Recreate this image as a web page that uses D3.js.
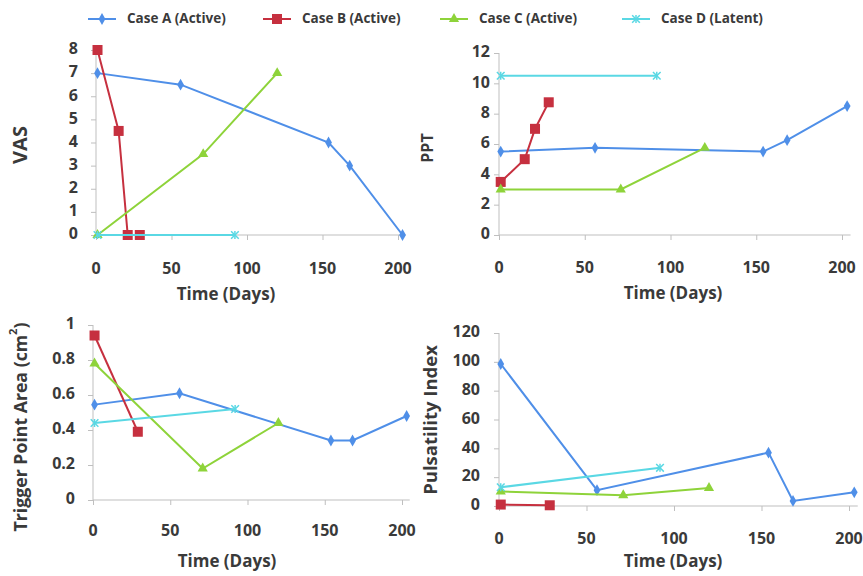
<!DOCTYPE html>
<html><head><meta charset="utf-8">
<script src="https://cdn.jsdelivr.net/npm/d3@7"></script>
<style>body{margin:0;background:#fff}svg{display:block}text{font-family:"Open Sans",sans-serif;font-weight:bold;fill:#3a3a3a}</style>
</head><body><svg id="c" width="863" height="576"></svg>
<script>
// ---- data ----
const seriesNames = ["Case A (Active)", "Case B (Active)", "Case C (Active)", "Case D (Latent)"];
const seriesColors = ["#4f8fe8", "#c6303f", "#8ed33a", "#5ad8e4"];
const seriesMarkers = ["diamond", "square", "triangle", "star"];
const xTicks = [0, 50, 100, 150, 200];

// days
const daysA = [1, 56, 154, 168, 203];
const daysB = [1, 15, 21, 29];
const daysB2 = [1, 29];
const daysC = [1, 71, 120];
const daysD = [1, 92];

// VAS
const vasA = [7, 6.5, 4, 3, 0];
const vasB = [8, 4.5, 0, 0];
const vasC = [0, 3.5, 7];
const vasD = [0, 0];
const vasTicks = [0, 1, 2, 3, 4, 5, 6, 7, 8];

// PPT
const pptA = [5.5, 5.75, 5.5, 6.25, 8.5];
const pptB = [3.5, 5, 7, 8.75];
const pptC = [3, 3, 5.75];
const pptD = [10.5, 10.5];
const pptTicks = [0, 2, 4, 6, 8, 10, 12];

// Trigger point area
const tpaA = [0.545, 0.61, 0.34, 0.34, 0.48];
const tpaB = [0.94, 0.39];
const tpaC = [0.78, 0.18, 0.44];
const tpaD = [0.44, 0.52];
const tpaTicks = [0, 0.2, 0.4, 0.6, 0.8, 1];

// Pulsatility index
const piA = [98.5, 11, 37, 3.5, 9.5];
const piB = [1, 0.5];
const piC = [10, 7.5, 12.5];
const piD = [13, 26.5];
const piTicks = [0, 20, 40, 60, 80, 100, 120];

// ---- layout ----
const svg = d3.select("#c");
const xMax = 205;

function zip(xs, ys){ return xs.map((x,i)=>({x, y: ys[i]})); }

function marker(g, type, color, x, y){
  if(type==="diamond"){
    g.append("path").attr("d", d3.symbol(d3.symbolDiamond, 40)()).attr("transform",`translate(${x},${y})`).attr("fill",color);
  } else if(type==="square"){
    g.append("rect").attr("x",x-5).attr("y",y-5).attr("width",10).attr("height",10).attr("fill",color);
  } else if(type==="triangle"){
    g.append("path").attr("d", d3.symbol(d3.symbolTriangle, 45)()).attr("transform",`translate(${x},${y})`).attr("fill",color);
  } else {
    g.append("path").attr("d", d3.symbol(d3.symbolX, 40)()).attr("transform",`translate(${x},${y})`).attr("fill","none").attr("stroke",color).attr("stroke-width",1.5);
    g.append("path").attr("d", `M${x},${y-4}V${y+4}`).attr("stroke",color).attr("stroke-width",1.5);
  }
}

function panel(cfg){
  const x = d3.scaleLinear().domain([0, xMax]).range([cfg.x0, cfg.x1]);
  const y = d3.scaleLinear().domain([cfg.yTicks[0], cfg.yTicks[cfg.yTicks.length-1]]).range([cfg.y0, cfg.y1]);
  const g = svg.append("g");
  const ax = g.append("g").attr("transform",`translate(0,${cfg.y0})`)
    .call(d3.axisBottom(x).tickValues(xTicks).tickSize(5).tickFormat(""));
  ax.select(".domain").attr("stroke","#bfbfbf").attr("d",`M${cfg.x0},0H${cfg.x1}`);
  ax.selectAll(".tick line").attr("stroke","#bfbfbf");
  const ay = g.append("g").attr("transform",`translate(${cfg.x0},0)`)
    .call(d3.axisLeft(y).tickValues(cfg.yTicks).tickSize(5).tickFormat(""));
  ay.select(".domain").attr("stroke","#bfbfbf").attr("d",`M0,${cfg.y0}V${cfg.y1}`);
  ay.selectAll(".tick line").attr("stroke","#bfbfbf");
  g.selectAll(".xl").data(xTicks).join("text").attr("x",d=>x(d)).attr("y",cfg.y0+cfg.xlOff)
    .attr("text-anchor","middle").attr("dominant-baseline","middle").attr("font-size",16).text(d=>d);
  g.selectAll(".yl").data(cfg.yTicks).join("text").attr("x",cfg.x0-cfg.ylOff).attr("y",d=>y(d))
    .attr("text-anchor","end").attr("dominant-baseline","middle").attr("font-size",16).text(d=>d);
  g.append("text").attr("x",cfg.xtX).attr("y",cfg.xtY).attr("text-anchor","middle")
    .attr("dominant-baseline","middle").attr("font-size",17).text("Time (Days)");
  g.append("text").attr("transform",`translate(${cfg.ytX},${cfg.ytY}) rotate(-90)`).attr("text-anchor","middle")
    .attr("dominant-baseline","middle").attr("font-size",cfg.ytSize).html(cfg.yTitle);
  const line = d3.line().x(d=>x(d.x)).y(d=>y(d.y));
  cfg.series.forEach((s,i)=>{
    const data = zip(s[0], s[1]);
    g.append("path").attr("d", line(data)).attr("fill","none").attr("stroke",seriesColors[i]).attr("stroke-width",2);
    data.forEach(p=>marker(g, seriesMarkers[i], seriesColors[i], x(p.x), y(p.y)));
  });
}

panel({x0:96, x1:96+xMax*1.51, y0:235, y1:50, yTicks:vasTicks, xlOff:35, ylOff:18, xtX:226, xtY:295,
  ytX:22, ytY:145, ytSize:20, yTitle:"VAS",
  series:[[daysA,vasA],[daysB,vasB],[daysC,vasC],[daysD,vasD]]});
panel({x0:499, x1:499+xMax*1.715, y0:235, y1:53, yTicks:pptTicks, xlOff:34, ylOff:9, xtX:673, xtY:294,
  ytX:429, ytY:148, ytSize:16, yTitle:"PPT",
  series:[[daysA,pptA],[daysB,pptB],[daysC,pptC],[daysD,pptD]]});
panel({x0:93, x1:93+xMax*1.545, y0:500, y1:325, yTicks:tpaTicks, xlOff:32, ylOff:18, xtX:227, xtY:562,
  ytX:22, ytY:427, ytSize:17.7, yTitle:"Trigger Point Area (cm<tspan baseline-shift='super' font-size='11'>2</tspan>)",
  series:[[daysA,tpaA],[daysB2,tpaB],[daysC,tpaC],[daysD,tpaD]]});
panel({x0:499, x1:499+xMax*1.75, y0:506, y1:333, yTicks:piTicks, xlOff:34, ylOff:19, xtX:673, xtY:562,
  ytX:432, ytY:420, ytSize:18.5, yTitle:"Pulsatility Index",
  series:[[daysA,piA],[daysB2,piB],[daysC,piC],[daysD,piD]]});

// legend
const legX = [88, 263, 440, 622];
const leg = svg.append("g");
seriesNames.forEach((n,i)=>{
  leg.append("path").attr("d",`M${legX[i]},19H${legX[i]+28}`).attr("stroke",seriesColors[i]).attr("stroke-width",2);
  marker(leg, seriesMarkers[i], seriesColors[i], legX[i]+14, 19);
  leg.append("text").attr("x",legX[i]+39).attr("y",19).attr("dominant-baseline","middle").attr("font-size",13.5).text(n);
});
</script></body></html>
